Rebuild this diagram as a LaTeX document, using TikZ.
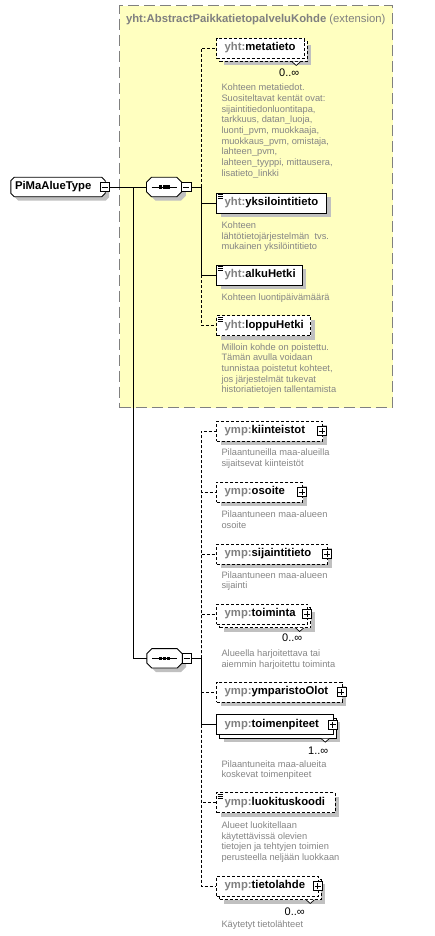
\documentclass[tikz,border=0pt]{standalone}
\usepackage{fontspec}
\setmainfont{Liberation Sans}
\usetikzlibrary{shadows}
\pgfdeclarelayer{lzero}
\pgfdeclarelayer{lone}
\pgfsetlayers{lzero,lone,main}
\definecolor{yel}{HTML}{FFFFC0}
\definecolor{pfx}{HTML}{808080}
\definecolor{dsc}{HTML}{858585}
\definecolor{shd}{HTML}{C0C0C0}
\definecolor{bord}{HTML}{808080}
\newcommand\pfxt[1]{\textcolor{pfx}{#1}}
\newcommand\namefont{\fontsize{11.3}{13}\selectfont\bfseries}
\newcommand\octopath[2]{([xshift=#2]#1.north west) -- ([xshift=-#2]#1.north east) -- ([yshift=-#2]#1.north east) -- ([yshift=#2]#1.south east) -- ([xshift=-#2]#1.south east) -- ([xshift=#2]#1.south west) -- ([yshift=#2]#1.south west) -- ([yshift=-#2]#1.north west) -- cycle}
\newcommand\iconlines[1]{\foreach \dy in {2,4,6} {\draw[line width=0.7pt] ([shift={(1.5,\dy)}]#1.north west) -- ++(5.5,0);}}
\newcommand\notchv[1]{\draw[line width=0.7pt, fill=white] ([xshift=-15.5pt]#1.south east) -- ++(4,3.5) -- ++(4,-3.5);}
\tikzset{
  opt/.style={dash pattern=on 3pt off 2pt},
  conn/.style={line width=0.9pt, black},
  el/.style 2 args={draw=black, line width=0.9pt, fill=white, minimum height=20pt,
    inner xsep=8pt, inner ysep=0pt, minimum width=#1, text width=#2, align=left,
    text height=8pt, text depth=2.5pt, font=\namefont},
  shad/.style={drop shadow={shadow xshift=4pt, shadow yshift=-4pt, fill=shd, opacity=1}},
  desc/.style={anchor=north west, inner sep=0pt, align=left, text=dsc,
    font=\fontsize{9.3}{10.67}\selectfont},
  mult/.style={anchor=east, inner sep=0pt, font=\fontsize{11}{13}\selectfont},
  pbox/.style={draw=black, line width=0.8pt, fill=white, minimum size=9pt, inner sep=0pt,
    path picture={\draw[line width=0.8pt] ([xshift=-3pt]path picture bounding box.center) -- ([xshift=3pt]path picture bounding box.center)
      ([yshift=-3pt]path picture bounding box.center) -- ([yshift=3pt]path picture bounding box.center);}},
  mbox/.style={draw=black, line width=0.8pt, fill=white, minimum size=9.5pt, inner sep=0pt,
    path picture={\draw[line width=0.8pt] ([xshift=-3pt]path picture bounding box.center) -- ([xshift=3pt]path picture bounding box.center);}},
  extbox/.style={draw=bord, line width=1pt, dash pattern=on 11pt off 5pt, fill=yel, inner sep=0pt},
  seqbox/.style={minimum width=35pt, minimum height=19pt, inner sep=0pt}
}
\begin{document}
\begin{tikzpicture}[x=1pt,y=-1pt]
\useasboundingbox (0,0) rectangle (435,936);
\begin{pgfonlayer}{lzero}
\node[extbox, minimum width=272.7pt, minimum height=401.7pt, anchor=north west] (ext) at (119.3,5.3) {};
\end{pgfonlayer}
\node[anchor=west, inner sep=0pt, font=\fontsize{11.3}{13}\selectfont, text=pfx] (extt) at (125.8,19.3) {\textbf{yht:AbstractPaikkatietopalveluKohde} (extension)};

% root and sequences
\node[minimum height=19pt, inner xsep=4pt, inner ysep=0pt, text width=86pt, align=left, font=\namefont, text height=8pt, text depth=2.5pt] (pima) at (58,187) {PiMaAlueType};
\node[seqbox] (seq1) at (164.2,187) {};
\node[seqbox] (seq2) at (164.5,658.3) {};
\begin{pgfonlayer}{lone}
\begin{scope}[transform canvas={xshift=4pt,yshift=-4pt}]
\fill[shd] \octopath{pima}{3.5pt};
\fill[shd] \octopath{seq1}{5pt};
\fill[shd] \octopath{seq2}{5pt};
\end{scope}
\draw[black, line width=0.9pt, fill=white] \octopath{pima}{3.5pt};
\draw[black, line width=0.9pt, fill=white] \octopath{seq1}{5pt};
\draw[black, line width=0.9pt, fill=white] \octopath{seq2}{5pt};
\end{pgfonlayer}
\foreach \s in {seq1,seq2} {
  \draw[line width=0.9pt] ([xshift=-12.5pt]\s.center) -- ([xshift=12.5pt]\s.center);
  \foreach \dx in {-3.8,0,3.8} {\fill ([xshift=\dx pt]\s.center) +(-1.6,-1.6) rectangle +(1.6,1.6);}
}
\node[mbox] (pimam) at (104.7,187) {};
\node[mbox] (s1m) at (186.4,187) {};
\node[mbox] (s2m) at (186.7,658.3) {};

% first group (extension)
\node[el={87.6pt}{71.6pt}, opt, shad] (metab) at (263.5,51.5) {};
\notchv{metab}
\node[el={87.6pt}{71.6pt}, opt] (meta) at (260.5,48) {\pfxt{yht:}metatieto};
\node[el={110pt}{94pt}, shad] (yks) at (271.7,203) {\pfxt{yht:}yksilointitieto};
\node[el={85.6pt}{69.6pt}, shad] (alku) at (259.5,275) {\pfxt{yht:}alkuHetki};
\node[el={94pt}{78pt}, opt, shad] (loppu) at (263.7,325.5) {\pfxt{yht:}loppuHetki};
\iconlines{yks}
\iconlines{alku}
\iconlines{loppu}

% second group
\node[el={106pt}{90pt}, opt, shad] (kiin) at (269.7,431) {\pfxt{ymp:}kiinteistot};
\node[el={85.8pt}{69.8pt}, opt, shad] (osoite) at (259.6,492) {\pfxt{ymp:}osoite};
\node[el={111pt}{95pt}, opt, shad] (sij) at (272.2,554) {\pfxt{ymp:}sijaintitieto};
\node[el={91pt}{75pt}, opt, shad] (toimb) at (265.2,617.5) {};
\notchv{toimb}
\node[el={91pt}{75pt}, opt] (toim) at (262.2,614) {\pfxt{ymp:}toiminta};
\node[el={125.3pt}{109.3pt}, opt, shad] (ympo) at (279.3,692) {\pfxt{ymp:}ymparistoOlot};
\node[el={116.6pt}{100.6pt}, shad] (toimpb) at (278,728.2) {};
\notchv{toimpb}
\node[el={116.6pt}{100.6pt}] (toimp) at (275,724.7) {\pfxt{ymp:}toimenpiteet};
\node[el={118.3pt}{102.3pt}, opt, shad] (luok) at (275.8,802.7) {\pfxt{ymp:}luokituskoodi};
\iconlines{luok}
\node[el={101.6pt}{85.6pt}, opt, shad] (tietb) at (270.5,889.5) {};
\notchv{tietb}
\node[el={101.6pt}{85.6pt}, opt] (tiet) at (267.5,886) {\pfxt{ymp:}tietolahde};

% expand boxes
\node[pbox] (kiinp) at ([xshift=-1pt]kiin.east) {};
\node[pbox] (osoitep) at ([xshift=-1pt]osoite.east) {};
\node[pbox] (sijp) at ([xshift=-1pt]sij.east) {};
\node[pbox] (toimpl) at ([xshift=-1pt]toim.east) {};
\node[pbox] (ympop) at ([xshift=-1pt]ympo.east) {};
\node[pbox] (toimpp) at ([xshift=-1pt]toimp.east) {};
\node[pbox] (tietp) at ([xshift=-1pt]tiet.east) {};

% multiplicities
\node[mult] (metam) at (299.5,72.3) {0..∞};
\node[mult] (toimm) at (302.5,637.5) {0..∞};
\node[mult] (toimpm) at (328.5,751) {1..∞};
\node[mult] (tietm) at (305,911.7) {0..∞};

% descriptions
\node[desc] (metad) at (221.3,83.2) {\strut Kohteen metatiedot.\\Suositeltavat kentät ovat:\\sijaintitiedonluontitapa,\\tarkkuus, datan\_luoja,\\luonti\_pvm, muokkaaja,\\muokkaus\_pvm, omistaja,\\lahteen\_pvm,\\lahteen\_tyyppi, mittausera,\\lisatieto\_linkki};
\node[desc] (yksd) at (221.3,220.9) {\strut Kohteen\\lähtötietojärjestelmän\ \ tvs.\\mukainen yksilöintitieto};
\node[desc] (alkud) at (221.3,292.9) {\strut Kohteen luontipäivämäärä};
\node[desc] (loppud) at (221.3,342.6) {\strut Milloin kohde on poistettu.\\Tämän avulla voidaan\\tunnistaa poistetut kohteet,\\jos järjestelmät tukevat\\historiatietojen tallentamista};
\node[desc] (kiind) at (221.3,448.2) {\strut Pilaantuneilla maa-alueilla\\sijaitsevat kiinteistöt};
\node[desc] (osoited) at (221.3,509.9) {\strut Pilaantuneen maa-alueen\\osoite};
\node[desc] (sijd) at (221.3,570.6) {\strut Pilaantuneen maa-alueen\\sijainti};
\node[desc] (toimd) at (221.3,648.9) {\strut Alueella harjoitettava tai\\aiemmin harjoitettu toiminta};
\node[desc] (toimpd) at (221.3,759.6) {\strut Pilaantuneita maa-alueita\\koskevat toimenpiteet};
\node[desc] (luokd) at (221.3,820.9) {\strut Alueet luokitellaan\\käytettävissä olevien\\tietojen ja tehtyjen toimien\\perusteella neljään luokkaan};
\node[desc] (tietd) at (221.3,919.9) {\strut Käytetyt tietolähteet};

% connectors
\coordinate (v0) at (133.3,187);
\coordinate (j1) at (201,187);
\coordinate (j2) at (201,658.3);
\draw[conn] (pimam.east) -- (seq1.west);
\draw[conn] (v0) |- (seq2.west);
\draw[conn] (s1m.east) -- (j1);
\draw[conn] (s2m.east) -- (j2);
\draw[conn, opt] (j1) |- (meta.west);
\draw[conn] (j1) |- (yks.west);
\draw[conn] (j1) |- (alku.west);
\draw[conn, opt] (j1 |- alku.west) |- (loppu.west);
\draw[conn, opt] (j2) |- (kiin.west);
\draw[conn, opt] (j2) |- (osoite.west);
\draw[conn, opt] (j2) |- (sij.west);
\draw[conn, opt] (j2) |- (toim.west);
\draw[conn] (j2) |- (toimp.west);
\draw[conn, opt] (j2 |- ympo.west) -- (ympo.west);
\draw[conn, opt] (j2 |- toimp.west) |- (luok.west);
\draw[conn, opt] (j2 |- toimp.west) |- (tiet.west);
\end{tikzpicture}
\end{document}
